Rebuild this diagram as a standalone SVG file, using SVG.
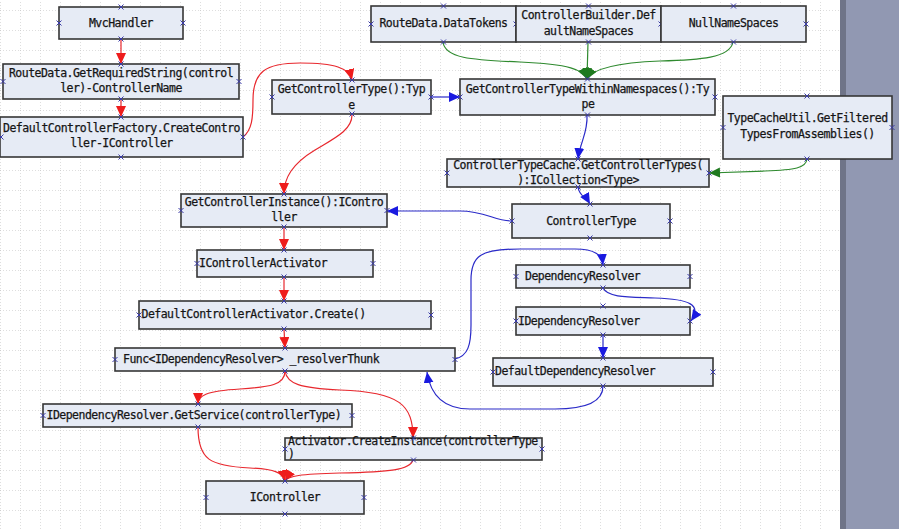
<svg xmlns="http://www.w3.org/2000/svg" width="899" height="529" viewBox="0 0 899 529">
<style>
.box{fill:#e6ebf5;stroke:#363636;stroke-width:1.6}
.t{font-family:"DejaVu Sans Mono","Liberation Mono",monospace;font-size:11.5px;letter-spacing:-0.52px;fill:#151515;stroke:#151515;stroke-width:0.25}
.m{text-anchor:middle}
.r{fill:none;stroke:#e8282e;stroke-width:1.2}
.b{fill:none;stroke:#2a2ac8;stroke-width:1.2}
.g{fill:none;stroke:#2f8a2f;stroke-width:1.2}
.cp{stroke:#3a3aa8;stroke-width:1;fill:none}
</style>
<defs>
<pattern id="grid" width="20" height="20" patternUnits="userSpaceOnUse" y="10">
<path d="M0,0 L0,20 M0,0 L20,0" stroke="#bdbdbd" stroke-width="1" stroke-dasharray="1,2" fill="none"/>
</pattern>
<marker id="ar" markerUnits="userSpaceOnUse" markerWidth="12" markerHeight="11" refX="11" refY="5" orient="auto"><path d="M0,0 L11,5 L0,10 z" fill="#ee1c1c"/></marker>
<marker id="ab" markerUnits="userSpaceOnUse" markerWidth="12" markerHeight="11" refX="11" refY="5" orient="auto"><path d="M0,0 L11,5 L0,10 z" fill="#1a1ae0"/></marker>
<marker id="ag" markerUnits="userSpaceOnUse" markerWidth="12" markerHeight="11" refX="11" refY="5" orient="auto"><path d="M0,0 L11,5 L0,10 z" fill="#1f7a1f"/></marker>
<path id="cp" class="cp" d="M-2.5,-2.5 L2.5,2.5 M-2.5,2.5 L2.5,-2.5"/>
</defs>
<rect x="0" y="0" width="840" height="529" fill="#ffffff"/>
<rect x="0" y="0" width="840" height="529" fill="url(#grid)"/>
<rect x="840" y="0" width="6" height="529" fill="#6f7488"/>
<rect x="846" y="0" width="53" height="529" fill="#9198b2"/>

<g id="connectors">
<path class="r" marker-end="url(#ar)" d="M121,39 L121,64"/>
<path class="r" marker-end="url(#ar)" d="M121,99 L121,117"/>
<path class="r" marker-end="url(#ar)" d="M243,137 C252,130 253,118 253,100 C253,72 265,63 300,63 C335,63 349,68 352,80"/>
<path class="r" marker-end="url(#ar)" d="M352,115 C352,130 335,138 315,150 C292,164 284,178 284,194"/>
<path class="r" marker-end="url(#ar)" d="M284,227 L284,250"/>
<path class="r" marker-end="url(#ar)" d="M284,277 L284,301"/>
<path class="r" marker-end="url(#ar)" d="M284,329 L285,348"/>
<path class="r" marker-end="url(#ar)" d="M285,371 C285,385 270,387 240,389 C205,391 198,396 198,404"/>
<path class="r" marker-end="url(#ar)" d="M285,371 C287,384 300,388 340,390 C400,392 413,405 413,438"/>
<path class="r" marker-end="url(#ar)" d="M198,427 C198,460 210,466 250,468 C275,469 283,473 285,481"/>
<path class="r" marker-end="url(#ar)" d="M413,460 C410,470 390,472 340,473 C300,474 288,476 285,481"/>
<path class="g" marker-end="url(#ag)" d="M443,42 C445,58 470,60 520,62 C570,64 583,70 587,79"/>
<path class="g" marker-end="url(#ag)" d="M588,42 L587,79"/>
<path class="g" marker-end="url(#ag)" d="M733,42 C730,58 700,60 660,61 C610,63 592,70 587,79"/>
<path class="g" marker-end="url(#ag)" d="M807,159 C806,168 795,170 765,171 L709,173"/>
<path class="b" marker-end="url(#ab)" d="M431,97 L460,97"/>
<path class="b" marker-end="url(#ab)" d="M587,115 C588,133 580,142 578,159"/>
<path class="b" marker-end="url(#ab)" d="M578,187 C579,196 586,197 590,204"/>
<path class="b" marker-end="url(#ab)" d="M512,221 C495,221 485,211 460,211 L387,211"/>
<path class="b" marker-end="url(#ab)" d="M455,359 C468,356 471,345 471,325 L471,280 C471,256 480,249 520,249 L575,249 C595,249 602,255 603,265"/>
<path class="b" marker-end="url(#ab)" d="M603,288 C608,298 630,297 655,298 C690,299 702,305 691,321"/>
<path class="b" marker-end="url(#ab)" d="M603,335 L603,358"/>
<path class="b" marker-end="url(#ab)" d="M603,386 C603,402 585,409 555,409 L470,409 C440,409 430,392 427,372"/>
</g>

<g id="n-mvchandler"><rect class="box" x="59" y="7" width="124" height="32"/><text class="t m" x="121" y="27">MvcHandler</text>
<use href="#cp" x="121" y="7"/><use href="#cp" x="121" y="39"/><use href="#cp" x="59" y="23"/><use href="#cp" x="183" y="23"/></g>

<g id="n-getrequiredstring"><rect class="box" x="3" y="64" width="236" height="35"/><text class="t m" x="121" y="76.7">RouteData.GetRequiredString(control</text><text class="t m" x="121" y="92.3">ler)-ControllerName</text>
<use href="#cp" x="121" y="64"/><use href="#cp" x="121" y="99"/><use href="#cp" x="3" y="81.5"/><use href="#cp" x="239" y="81.5"/></g>

<g id="n-createcontroller"><rect class="box" x="0" y="117" width="243" height="40"/><text class="t m" x="121.5" y="132.3">DefaultControllerFactory.CreateContro</text><text class="t m" x="121.5" y="147.3">ller-IController</text>
<use href="#cp" x="121" y="117"/><use href="#cp" x="121" y="157"/><use href="#cp" x="1" y="137"/><use href="#cp" x="243" y="137"/></g>

<g id="n-getcontrollertype"><rect class="box" x="272" y="80" width="159" height="34"/><text class="t m" x="351.5" y="93.3">GetControllerType():Typ</text><text class="t m" x="351.5" y="109">e</text>
<use href="#cp" x="352" y="80"/><use href="#cp" x="352" y="114"/><use href="#cp" x="272" y="97"/><use href="#cp" x="431" y="97"/></g>

<g id="n-datatokens"><rect class="box" x="371" y="6" width="145" height="36"/><text class="t m" x="443.5" y="27.3">RouteData.DataTokens</text>
<use href="#cp" x="443.5" y="6"/><use href="#cp" x="443.5" y="42"/><use href="#cp" x="371" y="24"/><use href="#cp" x="516" y="24"/></g>

<g id="n-defaultnamespaces"><rect class="box" x="516" y="6" width="145" height="36"/><text class="t m" x="588.5" y="19">ControllerBuilder.Def</text><text class="t m" x="588.5" y="34.7">aultNameSpaces</text>
<use href="#cp" x="588.5" y="6"/><use href="#cp" x="588.5" y="42"/><use href="#cp" x="661" y="24"/></g>

<g id="n-nullnamespaces"><rect class="box" x="661" y="6" width="145" height="36"/><text class="t m" x="733.5" y="26.7">NullNameSpaces</text>
<use href="#cp" x="733.5" y="6"/><use href="#cp" x="733.5" y="42"/><use href="#cp" x="806" y="24"/></g>

<g id="n-withinnamespaces"><rect class="box" x="460" y="79" width="255" height="36"/><text class="t m" x="587.5" y="93">GetControllerTypeWithinNamespaces():Ty</text><text class="t m" x="588" y="108.3">pe</text>
<use href="#cp" x="587.5" y="79"/><use href="#cp" x="587.5" y="115"/><use href="#cp" x="460" y="97"/><use href="#cp" x="715" y="97"/></g>

<g id="n-typecacheutil"><rect class="box" x="723" y="96" width="169" height="63"/><text class="t m" x="807.5" y="122.3">TypeCacheUtil.GetFiltered</text><text class="t m" x="807.5" y="138.3">TypesFromAssemblies()</text>
<use href="#cp" x="807" y="96"/><use href="#cp" x="807" y="159"/><use href="#cp" x="723" y="127.5"/><use href="#cp" x="892" y="127.5"/></g>

<g id="n-controllertypecache"><rect class="box" x="447" y="159" width="262" height="28"/><text class="t m" x="578" y="169">ControllerTypeCache.GetControllerTypes(</text><text class="t m" x="578" y="184">):ICollection&lt;Type&gt;</text>
<use href="#cp" x="578" y="159"/><use href="#cp" x="578" y="187"/><use href="#cp" x="447" y="173"/><use href="#cp" x="709" y="173"/></g>

<g id="n-controllertype"><rect class="box" x="512" y="204" width="158" height="34"/><text class="t m" x="591" y="225">ControllerType</text>
<use href="#cp" x="590" y="204"/><use href="#cp" x="590" y="238"/><use href="#cp" x="512" y="221"/><use href="#cp" x="670" y="221"/></g>

<g id="n-dependencyresolver"><rect class="box" x="516" y="265" width="174" height="23"/><text class="t" x="525" y="279.7">DependencyResolver</text>
<use href="#cp" x="603" y="265"/><use href="#cp" x="603" y="288"/><use href="#cp" x="516" y="276.5"/><use href="#cp" x="690" y="276.5"/></g>

<g id="n-idependencyresolver"><rect class="box" x="516" y="307" width="174" height="28"/><text class="t" x="518" y="324.7">IDependencyResolver</text>
<use href="#cp" x="603" y="306"/><use href="#cp" x="603" y="335"/><use href="#cp" x="516" y="321"/><use href="#cp" x="690" y="321"/></g>

<g id="n-defaultdependencyresolver"><rect class="box" x="493" y="358" width="220" height="28"/><text class="t" x="495" y="375">DefaultDependencyResolver</text>
<use href="#cp" x="603" y="358"/><use href="#cp" x="603" y="386"/><use href="#cp" x="493" y="372"/><use href="#cp" x="713" y="372"/></g>

<g id="n-getcontrollerinstance"><rect class="box" x="181" y="194" width="206" height="33"/><text class="t m" x="284" y="206">GetControllerInstance():IContro</text><text class="t m" x="284" y="221.3">ller</text>
<use href="#cp" x="284" y="194"/><use href="#cp" x="284" y="227"/><use href="#cp" x="181" y="210.5"/><use href="#cp" x="387" y="210.5"/></g>

<g id="n-icontrolleractivator"><rect class="box" x="197" y="250" width="176" height="27"/><text class="t" x="199" y="267.3">IControllerActivator</text>
<use href="#cp" x="284" y="250"/><use href="#cp" x="284" y="277"/><use href="#cp" x="197" y="263.5"/><use href="#cp" x="373" y="263.5"/></g>

<g id="n-activatorcreate"><rect class="box" x="139" y="301" width="292" height="28"/><text class="t" x="141.5" y="318.3">DefaultControllerActivator.Create()</text>
<use href="#cp" x="284" y="301"/><use href="#cp" x="284" y="329"/><use href="#cp" x="139" y="315"/><use href="#cp" x="431" y="315"/></g>

<g id="n-resolverthunk"><rect class="box" x="115" y="348" width="340" height="23"/><text class="t" x="123" y="363.3">Func&lt;IDependencyResolver&gt; _resolverThunk</text>
<use href="#cp" x="285" y="348"/><use href="#cp" x="285" y="371"/><use href="#cp" x="115" y="359.5"/><use href="#cp" x="455" y="359.5"/></g>

<g id="n-getservice"><rect class="box" x="43" y="404" width="309" height="23"/><text class="t" x="46.5" y="419">IDependencyResolver.GetService(controllerType)</text>
<use href="#cp" x="198" y="404"/><use href="#cp" x="198" y="427"/><use href="#cp" x="43" y="415.5"/><use href="#cp" x="352" y="415.5"/></g>

<g id="n-createinstance"><rect class="box" x="285" y="438" width="257" height="22"/><text class="t" x="288" y="445">Activator.CreateInstance(controllerType</text><text class="t" x="288" y="458">)</text>
<use href="#cp" x="413.5" y="438"/><use href="#cp" x="413.5" y="460"/><use href="#cp" x="285" y="449"/><use href="#cp" x="542" y="449"/></g>

<g id="n-icontroller"><rect class="box" x="206" y="481" width="158" height="33"/><text class="t m" x="285" y="501.3">IController</text>
<use href="#cp" x="285" y="481"/><use href="#cp" x="285" y="514"/><use href="#cp" x="206" y="497.5"/><use href="#cp" x="364" y="497.5"/></g>
</svg>
